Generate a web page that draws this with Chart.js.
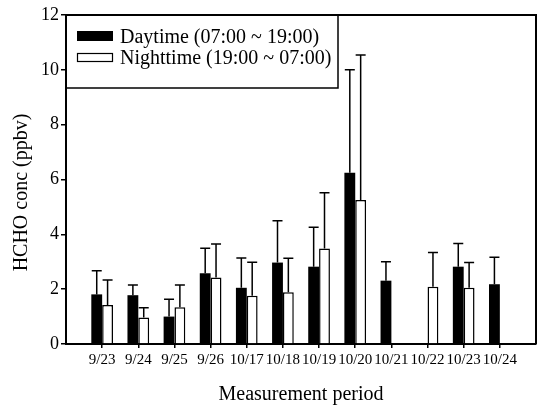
<!DOCTYPE html>
<html>
<head>
<meta charset="utf-8">
<script src="https://cdn.jsdelivr.net/npm/chart.js@4.4.0/dist/chart.umd.min.js"></script>
<style>
html,body{margin:0;padding:0;background:#fff;}
#wrap{width:539px;height:405px;}
</style>
</head>
<body>
<div id="wrap"><canvas id="hchoChart"></canvas></div>
<script>
const dates = ["9/23","9/24","9/25","9/26","10/17","10/18","10/19","10/20","10/21","10/22","10/23","10/24"];
const daytime      = [1.81, 1.78, 1.00, 2.58, 2.05, 2.97, 2.82, 6.25, 2.31, null, 2.82, 2.18];
const daytimeErr   = [0.86, 0.37, 0.63, 0.91, 1.09, 1.53, 1.44, 3.75, 0.69, null, 0.85, 0.98];
const nighttime    = [1.42, 0.97, 1.34, 2.43, 1.76, 1.89, 3.48, 5.25, null, 2.09, 2.05, null];
const nighttimeErr = [0.91, 0.35, 0.81, 1.22, 1.22, 1.24, 2.04, 5.29, null, 1.25, 0.92, null];
const seriesNames = ["Daytime (07:00 ~ 19:00)", "Nighttime (19:00 ~ 07:00)"];
const yTitle = "HCHO conc (ppbv)";

// empty slot at each end, the way the plot leaves room before 9/23 and after 10/24
const labels = ["", ...dates, ""];
function pad(arr){ return [null, ...arr, null]; }
const FONT = "'Liberation Serif', 'Times New Roman', serif";

const errorBars = {
    id:'errorBars',
    afterDatasetsDraw(chart){
        const ctx = chart.ctx, y = chart.scales.y;
        const errs = [pad(daytimeErr), pad(nighttimeErr)];
        chart.data.datasets.forEach((ds,i)=>{
            const meta = chart.getDatasetMeta(i);
            meta.data.forEach((bar,j)=>{
                const v = ds.data[j], e = errs[i][j];
                if(v==null || e==null) return;
                const top = y.getPixelForValue(v+e);
                ctx.save();
                ctx.strokeStyle = '#000';
                ctx.lineWidth = 1.5;
                ctx.beginPath();
                ctx.moveTo(bar.x, bar.y);
                ctx.lineTo(bar.x, top);
                ctx.moveTo(bar.x-5, top);
                ctx.lineTo(bar.x+5, top);
                ctx.stroke();
                ctx.restore();
            });
        });
    }
};

const frameAndLegend = {
    id:'frameAndLegend',
    afterDraw(chart){
        const ctx = chart.ctx, a = chart.chartArea;
        ctx.save();
        ctx.strokeStyle = '#000';
        ctx.lineWidth = 2;
        ctx.beginPath();
        ctx.moveTo(a.left, a.top);
        ctx.lineTo(a.right, a.top);
        ctx.lineTo(a.right, a.bottom);
        ctx.stroke();

        // legend box in the upper left corner of the plot
        ctx.lineWidth = 1.5;
        ctx.strokeRect(a.left, a.top, 272, 73);
        ctx.fillStyle = '#000';
        ctx.fillRect(a.left+11, a.top+16, 36, 10);
        ctx.fillStyle = '#fff';
        ctx.fillRect(a.left+11, a.top+38, 36, 9);
        ctx.lineWidth = 1.2;
        ctx.strokeRect(a.left+11.5, a.top+38.5, 35, 8);
        ctx.fillStyle = '#000';
        ctx.font = "20px " + FONT;
        ctx.textBaseline = 'alphabetic';
        ctx.fillText(seriesNames[0], a.left+54, a.top+27.5);
        ctx.fillText(seriesNames[1], a.left+54, a.top+48.5);

        // y axis title, sits a little below the middle of the axis in the original
        ctx.translate(22, (a.top+a.bottom)/2 + 13);
        ctx.rotate(-Math.PI/2);
        ctx.textAlign = 'center';
        ctx.textBaseline = 'middle';
        ctx.fillText(yTitle, 0, 0);
        ctx.restore();
    }
};

const ctx = document.getElementById("hchoChart").getContext("2d");
new Chart(ctx,{
    type:'bar',
    data:{
        labels: labels,
        datasets:[
            {label:seriesNames[0], data:pad(daytime), backgroundColor:'#000', borderColor:'#000', borderWidth:0},
            {label:seriesNames[1], data:pad(nighttime), backgroundColor:'#fff', borderColor:'#000', borderWidth:1.5}
        ]
    },
    options:{
        responsive:true,
        maintainAspectRatio:false,
        animation:false,
        layout:{padding:{top:15, right:1, left:0, bottom:0}},
        plugins:{legend:{display:false}, tooltip:{enabled:false}},
        datasets:{bar:{categoryPercentage:0.6, barPercentage:1.0}},
        scales:{
            x:{
                offset:false,
                grid:{offset:false, drawOnChartArea:false, tickLength:4, lineWidth:1.5,
                      color:c => (c.index===0 || c.index===labels.length-1) ? 'rgba(0,0,0,0)' : '#000'},
                border:{display:true, color:'#000', width:2},
                ticks:{color:'#000', font:{family:FONT, size:15}, padding:3, maxRotation:0, autoSkip:false},
                title:{display:true, text:'Measurement period', color:'#000', font:{family:FONT, size:20}, padding:{top:14, bottom:-2}},
                afterFit(scale){ scale.height = 61; }
            },
            y:{
                min:0, max:12,
                grid:{drawOnChartArea:false, tickLength:5, lineWidth:1.5, color:'#000'},
                border:{display:true, color:'#000', width:2},
                ticks:{stepSize:2, color:'#000', font:{family:FONT, size:18}, padding:2},
                afterFit(scale){ scale.width = 66; }
            }
        }
    },
    plugins:[errorBars, frameAndLegend]
});
</script>
</body>
</html>
